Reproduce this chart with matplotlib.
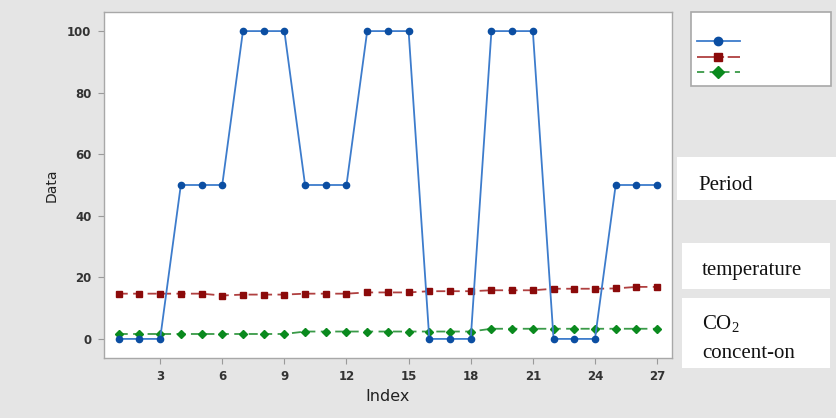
import matplotlib
matplotlib.use("Agg")
import matplotlib.pyplot as plt
from matplotlib.patches import Rectangle
from matplotlib.lines import Line2D

plt.rcParams["mathtext.fontset"] = "custom"
plt.rcParams["mathtext.rm"] = "Liberation Serif"
plt.rcParams["mathtext.it"] = "Liberation Serif:italic"

index = list(range(1, 28))
period = [0, 0, 0, 50, 50, 50, 100, 100, 100, 50, 50, 50, 100, 100, 100,
          0, 0, 0, 100, 100, 100, 0, 0, 0, 50, 50, 50]
temperature = [14.7, 14.7, 14.7, 14.7, 14.7, 14.1, 14.4, 14.4, 14.4,
               14.7, 14.7, 14.7, 15.1, 15.1, 15.1, 15.5, 15.5, 15.5,
               15.8, 15.8, 15.8, 16.3, 16.3, 16.3, 16.4, 16.9, 16.9]
co2 = [1.6] * 9 + [2.4] * 9 + [3.3] * 9
xticks = [3, 6, 9, 12, 15, 18, 21, 24, 27]
yticks = [0, 20, 40, 60, 80, 100]

W, H = 836, 418
fig = plt.figure(figsize=(W / 100, H / 100), dpi=100)
fig.patch.set_facecolor("#e5e5e5")

ax = fig.add_axes([104 / W, 1 - 358 / H, (672 - 104) / W, (358 - 12) / H])
ax.set_facecolor("white")

blue_line, blue_mk = "#3d7ccc", "#0b4ea2"
red_line, red_mk = "#b04040", "#8b0a0a"
green_line, green_mk = "#3a9a48", "#0a8a1e"

ax.plot(index, temperature, color=red_line, lw=1.3, ls=(0, (5, 3)),
        marker="s", ms=4.5, mfc=red_mk, mec=red_mk, zorder=2)
ax.plot(index, co2, color=green_line, lw=1.3, ls=(0, (5, 3)),
        marker="D", ms=4.5, mfc=green_mk, mec=green_mk, zorder=2)
ax.plot(index, period, color=blue_line, lw=1.3, ls="-",
        marker="o", ms=4.5, mfc=blue_mk, mec=blue_mk, zorder=3)

ax.set_xlim(0.29, 27.72)
ax.set_ylim(-6.2, 106.2)
ax.set_xticks(xticks)
ax.set_yticks(yticks)
ax.tick_params(axis="both", direction="out", length=4, width=0.8,
               color="#9a9a9a", labelsize=8.5, labelcolor="#333333", pad=5)
for lbl in ax.get_xticklabels() + ax.get_yticklabels():
    lbl.set_fontweight("bold")
for s in ax.spines.values():
    s.set_color("#a8a8a8")
    s.set_linewidth(1.0)

ax.set_xlabel("Index", fontsize=11.5, color="#222222", labelpad=4)
ax.set_ylabel("Data", fontsize=10, color="#222222", labelpad=6)

# Legend panel with marker samples only
def px_rect(x0, y0, x1, y1, ec="none", lw=0):
    fig.patches.append(Rectangle((x0 / W, 1 - y1 / H), (x1 - x0) / W,
                                 (y1 - y0) / H, transform=fig.transFigure,
                                 facecolor="white", edgecolor=ec, lw=lw,
                                 zorder=1))

px_rect(691, 12, 831, 86, ec="#a8a8a8", lw=1.2)

def px_line(y, color, mcolor, marker, ls, ms):
    fig.lines.append(Line2D([697 / W, 740 / W], [1 - y / H, 1 - y / H],
                            transform=fig.transFigure, color=color, lw=1.3,
                            ls=ls, zorder=2))
    fig.lines.append(Line2D([718 / W], [1 - y / H], transform=fig.transFigure,
                            marker=marker, ms=ms, mfc=mcolor, mec=mcolor,
                            ls="none", zorder=3))

px_line(41, blue_line, blue_mk, "o", "-", 6)
px_line(57, red_line, red_mk, "s", (0, (12, 2, 1, 2)), 6)
px_line(72, green_line, green_mk, "D", (0, (4, 3)), 6)

# Series labels
px_rect(677, 157, 836, 200)
px_rect(682, 243, 830, 289)
px_rect(682, 298, 830, 368)

serif = "Liberation Serif"
fig.text(698 / W, 1 - 190 / H, "Period", fontsize=15, family=serif,
         va="baseline", ha="left", color="#111111")
fig.text(702 / W, 1 - 275 / H, "temperature", fontsize=15, family=serif,
         va="baseline", ha="left", color="#111111")
fig.text(702 / W, 1 - 329 / H, r"CO$_\mathrm{2}$", fontsize=15, family=serif,
         va="baseline", ha="left", color="#111111")
fig.text(702 / W, 1 - 358 / H, "concent-on", fontsize=15, family=serif,
         va="baseline", ha="left", color="#111111")

fig.savefig("out.png", dpi=100, facecolor=fig.get_facecolor())
